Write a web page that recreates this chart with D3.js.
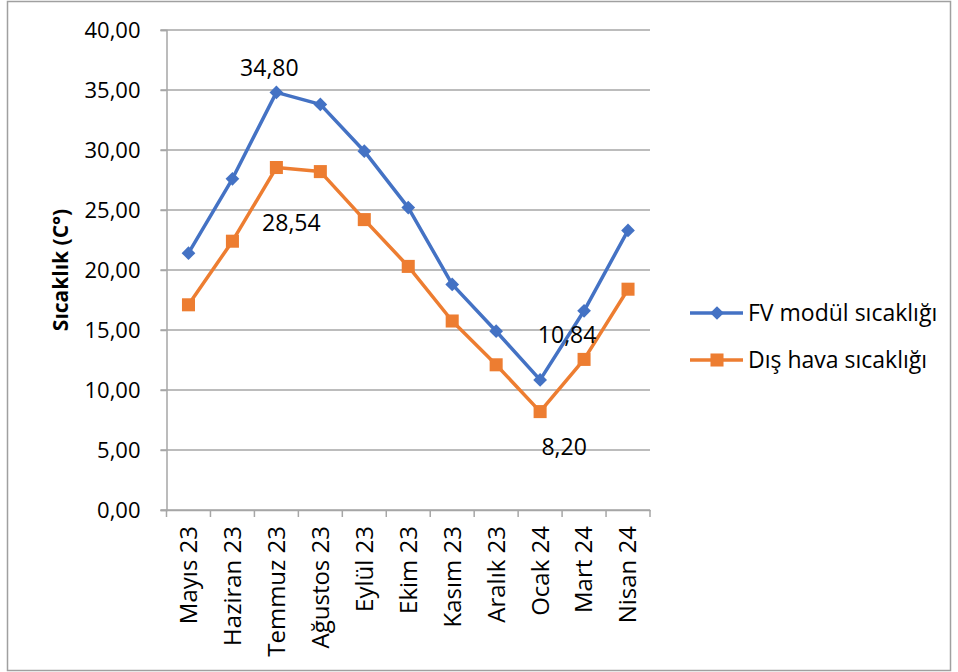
<!DOCTYPE html>
<html>
<head>
<meta charset="utf-8">
<script src="https://cdn.jsdelivr.net/npm/d3@7"></script>
<style>
  body { margin: 0; background: #fff; }
  text { font-family: "Open Sans", sans-serif; }
</style>
</head>
<body>
<div id="chart"></div>
<script>
const months = ["Mayıs 23", "Haziran 23", "Temmuz 23", "Ağustos 23", "Eylül 23", "Ekim 23",
  "Kasım 23", "Aralık 23", "Ocak 24", "Mart 24", "Nisan 24"];
const moduleTemp = [21.4, 27.6, 34.8, 33.8, 29.9, 25.2, 18.8, 14.9, 10.84, 16.6, 23.3];
const outsideTemp = [17.1, 22.4, 28.54, 28.2, 24.2, 20.3, 15.75, 12.1, 8.2, 12.55, 18.4];
const yTicks = [0, 5, 10, 15, 20, 25, 30, 35, 40];
const seriesNames = ["FV modül sıcaklığı", "Dış hava sıcaklığı"];
// which points get a value label (series index, month index)
const labelled = [[0, 2], [1, 2], [0, 8], [1, 8]];

const width = 958, height = 672;
const blue = "#4472C4", orange = "#ED7D31";

const svg = d3.select("#chart").append("svg")
  .attr("width", width)
  .attr("height", height);

// outer frame
svg.append("rect")
  .attr("x", 7.5).attr("y", 1.5)
  .attr("width", 943).attr("height", 669)
  .attr("fill", "none").attr("stroke", "#a0a0a0").attr("stroke-width", 1.5);

const plot = { left: 166.5, right: 650, top: 30, bottom: 510 };

const x = d3.scaleBand().domain(months).range([plot.left, plot.right]);
const y = d3.scaleLinear().domain([0, 40]).range([plot.bottom, plot.top]);
const fmt = v => d3.format(".2f")(v).replace(".", ",");

// gridlines
svg.append("g")
  .selectAll("line")
  .data(yTicks)
  .join("line")
    .attr("x1", plot.left - 6).attr("x2", plot.right)
    .attr("y1", d => y(d)).attr("y2", d => y(d))
    .attr("stroke", "#a6a6a6").attr("stroke-width", 1.5);

// y axis
const yAxis = svg.append("g")
  .attr("transform", `translate(${plot.left},0)`)
  .call(d3.axisLeft(y).tickValues(yTicks).tickFormat(fmt).tickSize(6).tickPadding(20));
yAxis.select(".domain").attr("stroke", "#a6a6a6").attr("stroke-width", 1.5);
yAxis.selectAll(".tick line").attr("stroke", "#a6a6a6").attr("stroke-width", 1.5);
yAxis.selectAll("text")
  .style("font-size", "22px").attr("fill", "#000").attr("dy", "0.35em");

// x axis
const xAxis = svg.append("g")
  .attr("transform", `translate(0,${plot.bottom})`)
  .call(d3.axisBottom(x).tickSize(0).tickPadding(0));
xAxis.select(".domain").attr("stroke", "#a6a6a6").attr("stroke-width", 1.5);
xAxis.selectAll(".tick line").remove();
xAxis.selectAll("text")
  .style("font-size", "24px").attr("fill", "#000")
  .attr("text-anchor", "end")
  .attr("transform", "rotate(-90)")
  .attr("x", -16).attr("y", 0).attr("dy", "0.35em");

// category boundary ticks
svg.append("g")
  .selectAll("line")
  .data(d3.range(months.length + 1))
  .join("line")
    .attr("x1", i => plot.left + i * x.step()).attr("x2", i => plot.left + i * x.step())
    .attr("y1", plot.bottom).attr("y2", plot.bottom + 7)
    .attr("stroke", "#a6a6a6").attr("stroke-width", 1.5);

// y title
svg.append("text")
  .attr("transform", `translate(61,270) rotate(-90)`)
  .attr("text-anchor", "middle")
  .attr("dy", "0.35em")
  .style("font-size", "21px").style("font-weight", "bold")
  .text("Sıcaklık (C°)");

const cx = m => x(m) + x.bandwidth() / 2;
const line = d3.line().x((d, i) => cx(months[i])).y(d => y(d));

const diamond = d3.symbol().type(d3.symbolDiamond2).size(120);
const square = d3.symbol().type(d3.symbolSquare).size(170);

function drawSeries(values, color, sym) {
  svg.append("path")
    .datum(values)
    .attr("d", line)
    .attr("fill", "none").attr("stroke", color)
    .attr("stroke-width", 3.5).attr("stroke-linejoin", "round");
  svg.append("g")
    .selectAll("path")
    .data(values)
    .join("path")
      .attr("d", sym)
      .attr("transform", (d, i) => `translate(${cx(months[i])},${y(d)})`)
      .attr("fill", color);
}
drawSeries(moduleTemp, blue, diamond);
drawSeries(outsideTemp, orange, square);

// value labels
const series = [moduleTemp, outsideTemp];
const labelOffsets = [[-7, -24], [15, 55], [27, -45], [24, 35]];
svg.append("g")
  .selectAll("text")
  .data(labelled)
  .join("text")
    .attr("x", (d, k) => cx(months[d[1]]) + labelOffsets[k][0])
    .attr("y", (d, k) => y(series[d[0]][d[1]]) + labelOffsets[k][1])
    .attr("text-anchor", "middle")
    .attr("dy", "0.35em")
    .style("font-size", "23px")
    .text(d => fmt(series[d[0]][d[1]]));

// legend
const legend = svg.append("g").attr("transform", "translate(690,313)");
const legItems = legend.selectAll("g")
  .data(seriesNames)
  .join("g")
    .attr("transform", (d, i) => `translate(0,${i * 47})`);
legItems.append("line")
  .attr("x1", 0).attr("x2", 53)
  .attr("stroke", (d, i) => i ? orange : blue).attr("stroke-width", 3.5);
legItems.append("path")
  .attr("d", (d, i) => i ? square() : diamond())
  .attr("transform", "translate(27,0)")
  .attr("fill", (d, i) => i ? orange : blue);
legItems.append("text")
  .attr("x", 58).attr("dy", "0.35em")
  .style("font-size", "23px")
  .text(d => d);
</script>
</body>
</html>
